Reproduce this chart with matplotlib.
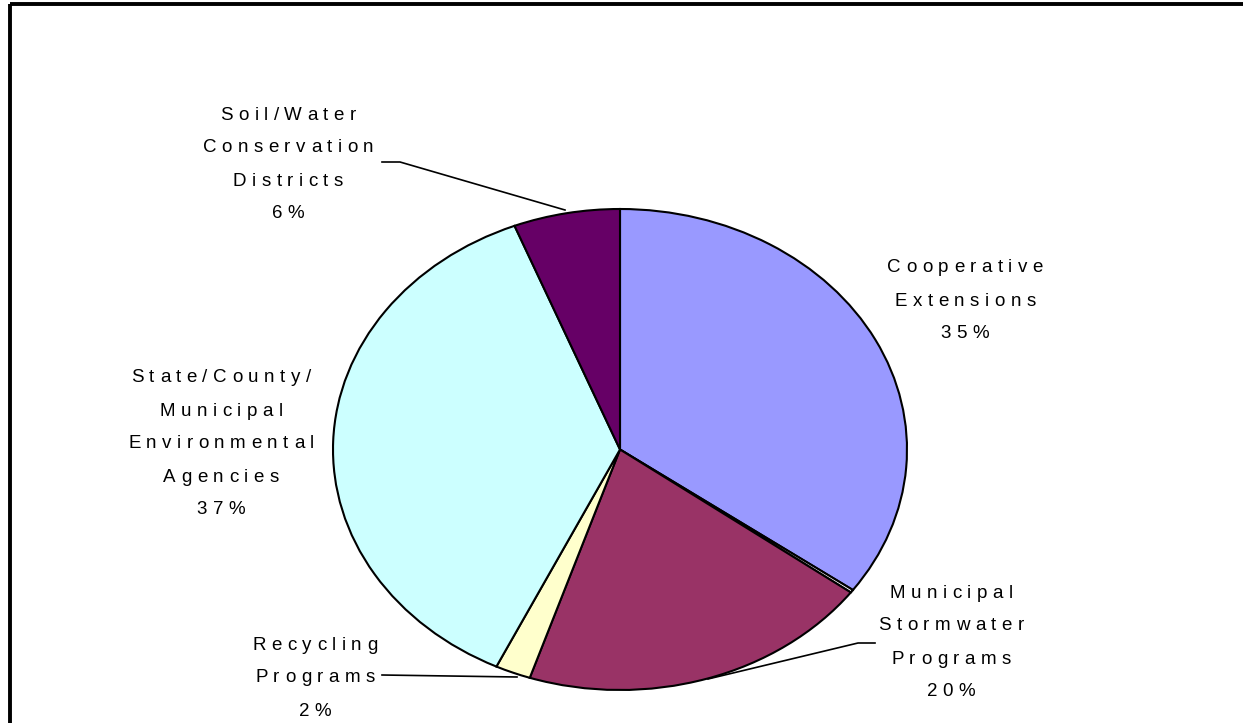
import matplotlib
matplotlib.use('Agg')
import matplotlib.pyplot as plt
from matplotlib.font_manager import FontProperties
from matplotlib.textpath import TextToPath
from matplotlib.patches import Rectangle

# data (clockwise from 12 o'clock)
labels = ['Cooperative\nExtensions\n35%', '',
          'Municipal\nStormwater\nPrograms\n20%',
          'Recycling\nPrograms\n2%',
          'State/County/\nMunicipal\nEnvironmental\nAgencies\n37%',
          'Soil/Water\nConservation\nDistricts\n6%']
values = [35, 0.2, 20, 2, 37, 6]
colors = ['#9999FF', '#FFFFFF', '#993366', '#FFFFCC', '#CCFFFF', '#660066']

# label centres (pixels) and leader lines
label_pos = [(965, 268), None, (951, 593), (315, 645), (221, 378), (288, 115)]
leaders = [None, None,
           [(875, 643), (858, 643), (708, 679)],
           [(382, 675), (517, 677)],
           None,
           [(382, 162), (400, 162), (565, 210)]]

W, H, DPI = 1243, 723, 100
fig = plt.figure(figsize=(W / DPI, H / DPI), dpi=DPI)

# pie drawn in its own axes so it comes out as an ellipse
cx, cy, rx, ry = 620, 449.5, 287, 240.5
pax = fig.add_axes([(cx - rx) / W, (H - cy - ry) / H, 2 * rx / W, 2 * ry / H])
pax.pie(values, colors=colors, startangle=90, counterclock=False, radius=1,
        wedgeprops=dict(edgecolor='black', linewidth=1.5))
pax.set_xlim(-1, 1)
pax.set_ylim(-1, 1)
pax.set_aspect('auto')
pax.axis('off')

# overlay in pixel coordinates
ax = fig.add_axes([0, 0, 1, 1], zorder=5)
ax.set_xlim(0, W)
ax.set_ylim(H, 0)
ax.axis('off')

# chart frame (top and left edges visible)
ax.add_patch(Rectangle((10, 4), W + 20, H + 20, fill=False,
                       edgecolor='black', linewidth=2.8, clip_on=False))

fp = FontProperties(family='Liberation Sans', size=13.5)
ttp = TextToPath()
track = 5.5
line_gap = 33


def width(s):
    if not s:
        return 0
    return ttp.get_text_width_height_descent(s, fp, ismath=False)[0] * DPI / 72


def spaced(x, y, s):
    total = width(s) + (len(s) - 1) * track
    x0 = x - total / 2
    for i, ch in enumerate(s):
        ax.text(x0 + width(s[:i]) + i * track, y, ch, fontproperties=fp,
                ha='left', va='center', color='black')


for lab, pos, ld in zip(labels, label_pos, leaders):
    if pos is None:
        continue
    for k, line in enumerate(lab.split('\n')):
        spaced(pos[0], pos[1] + k * line_gap, line)
    if ld:
        xs, ys = zip(*ld)
        ax.plot(xs, ys, color='black', linewidth=1.2)

fig.savefig('out.png', dpi=DPI)
